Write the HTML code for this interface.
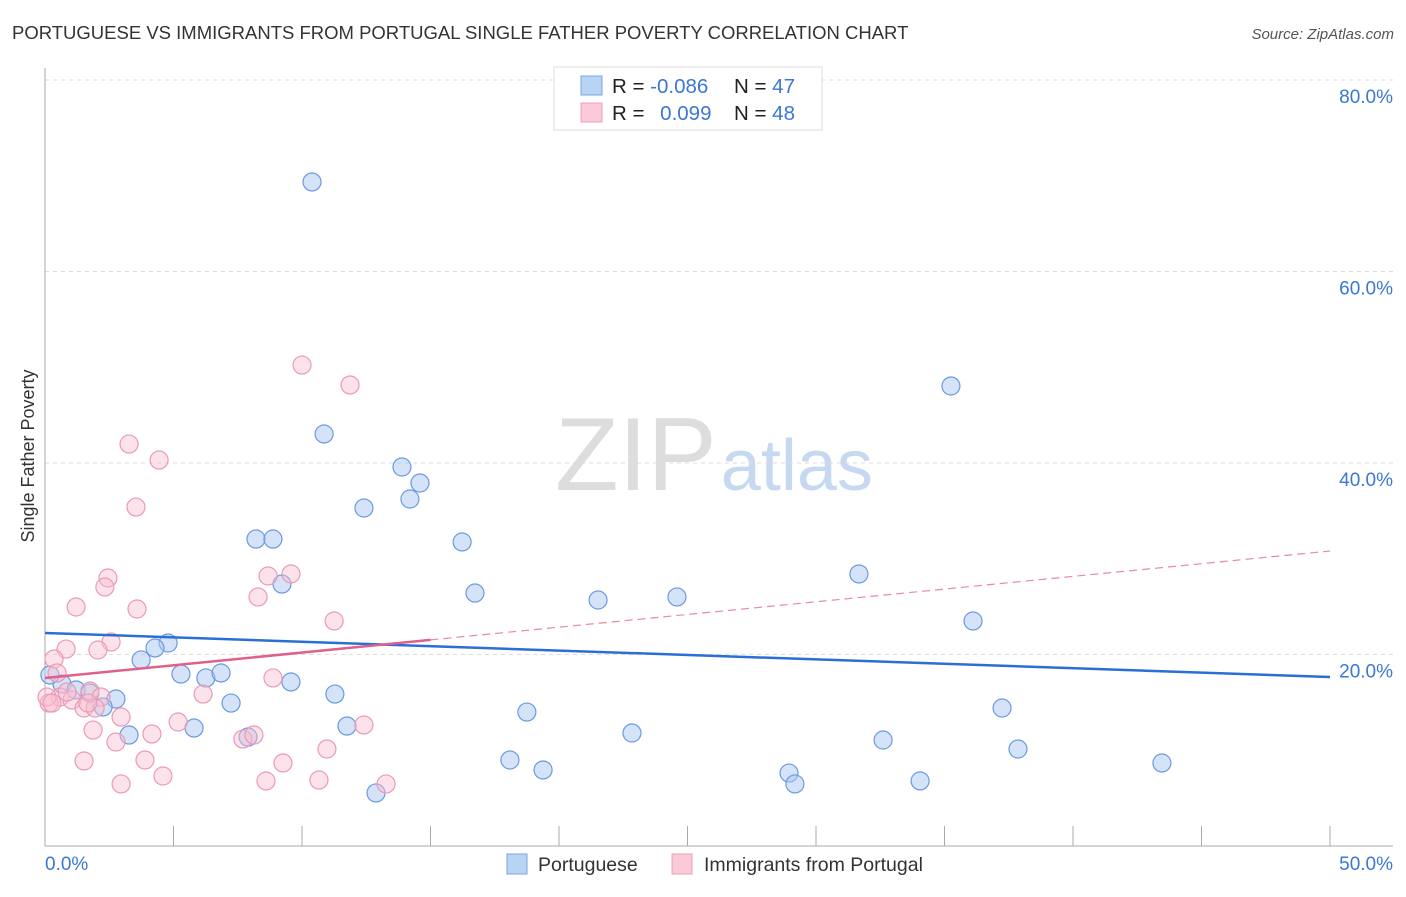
<!DOCTYPE html>
<html><head><meta charset="utf-8"><style>
body{margin:0;background:#fff;font-family:"Liberation Sans",sans-serif;}
svg text{font-family:"Liberation Sans",sans-serif;}
</style></head><body>
<svg id="chart" width="1406" height="892" xmlns="http://www.w3.org/2000/svg">
<text x="12" y="39" font-size="18.5" fill="#333">PORTUGUESE VS IMMIGRANTS FROM PORTUGAL SINGLE FATHER POVERTY CORRELATION CHART</text>
<text x="1394" y="39" font-size="15" fill="#555" text-anchor="end" font-style="italic">Source: ZipAtlas.com</text>
<text x="555" y="490" font-size="104" fill="#ddd" font-family="Liberation Serif">ZIP<tspan fill="#c6d9f1" font-family="Liberation Sans" font-size="72" dx="4">atlas</tspan></text>
<text transform="translate(34,456) rotate(-90)" font-size="18" fill="#333" text-anchor="middle">Single Father Poverty</text>
<g id="grid"></g><g id="marks"></g>
<g>
<rect x="554" y="67" width="268" height="63" fill="#fff" stroke="#ddd"/>
<rect x="581" y="76" width="21" height="19" fill="#b9d3f5" stroke="#7aa6e0"/>
<rect x="581" y="103" width="21" height="19" fill="#fbc9d8" stroke="#eea0b8"/>
<text x="612" y="93" font-size="20.5" fill="#222">R = <tspan fill="#3a78d4">-0.086</tspan></text>
<text x="734" y="93" font-size="20.5" fill="#222">N = <tspan fill="#3a78d4">47</tspan></text>
<text x="612" y="120" font-size="20.5" fill="#222">R = <tspan fill="#3a78d4" dx="10">0.099</tspan></text>
<text x="734" y="120" font-size="20.5" fill="#222">N = <tspan fill="#3a78d4">48</tspan></text>
</g>
<g>
<rect x="507" y="854" width="20" height="20" fill="#b9d3f5" stroke="#7aa6e0"/>
<text x="538" y="871" font-size="19.5" fill="#333">Portuguese</text>
<rect x="672" y="854" width="20" height="20" fill="#fbc9d8" stroke="#eea0b8"/>
<text x="704" y="871" font-size="19.5" fill="#333">Immigrants from Portugal</text>
</g>
</svg>
<script>
const yTicks=[20,40,60,80];
const yTickLabels=["20.0%","40.0%","60.0%","80.0%"];
const xTicks=[0,5,10,15,20,25,30,35,40,45,50];
const blueX=[10.39,10.86,13.89,14.59,14.20,12.41,8.21,8.87,16.23,9.22,16.73,21.52,24.59,31.67,35.25,36.11,4.79,4.28,3.74,5.29,6.26,6.85,9.57,0.66,1.21,1.75,2.76,2.26,7.24,11.28,5.80,3.27,11.75,18.75,22.84,18.09,19.38,28.95,29.18,12.88,32.61,34.05,37.24,37.86,43.46,7.90,0.19];
const blueY=[69.35,43.03,39.58,37.91,36.24,35.30,32.06,32.06,31.75,27.36,26.42,25.69,26.01,28.41,48.04,23.50,21.20,20.68,19.43,17.96,17.55,18.07,17.13,16.92,16.29,15.98,15.35,14.52,14.93,15.87,12.32,11.59,12.53,13.99,11.80,8.98,7.94,7.62,6.48,5.54,11.07,6.79,14.41,10.13,8.67,11.38,17.86];
const pinkX=[10.00,11.87,3.27,4.44,3.54,2.45,2.33,1.21,3.58,8.68,9.57,8.29,11.25,2.57,2.06,0.82,0.35,0.47,8.87,6.15,1.75,2.18,0.58,1.05,0.16,1.52,1.95,2.96,5.18,4.16,1.87,2.76,7.70,8.13,1.52,3.89,4.59,2.96,8.60,9.26,10.66,13.27,12.41,10.97,0.08,0.27,0.86,1.67];
const pinkY=[50.23,48.15,41.98,40.31,35.40,27.99,27.05,24.96,24.75,28.20,28.41,26.01,23.50,21.31,20.47,20.57,19.53,18.07,17.55,15.87,16.19,15.56,15.56,15.25,14.93,14.41,14.41,13.47,12.95,11.70,12.11,10.86,11.17,11.59,8.88,8.98,7.31,6.48,6.79,8.67,6.89,6.48,12.64,10.13,15.56,14.93,16.08,14.93];
const blueTrend=[22.25,17.65];
const pinkTrend=[17.55,30.81];
const pinkSolidEnd=15;

const NS="http://www.w3.org/2000/svg";
const X=v=>45+v*(1285/50);
const Y=v=>846-v*(766/80);
const grid=document.getElementById('grid'),marks=document.getElementById('marks');
function mk(tag,attrs,parent){const e=document.createElementNS(NS,tag);for(const k in attrs)e.setAttribute(k,attrs[k]);parent.appendChild(e);return e;}
yTicks.forEach((t,i)=>{
  const l=mk('line',{x1:45,x2:1393,y1:Y(t),y2:Y(t),stroke:'#ddd','stroke-dasharray':'4,4'},grid);
  
  
  const tx=mk('text',{x:1393,y:Y(t)+23,'font-size':19,fill:'#3a78d4','text-anchor':'end'},grid);
  tx.textContent=yTickLabels[i];
  
  
});
const ax=mk('path',{d:'M45,68 V846 H1393',fill:'none',stroke:'#aaa'},grid);


xTicks.slice(1).forEach(t=>{
  const l=mk('line',{x1:X(t),x2:X(t),y1:826,y2:846,stroke:'#aaa'},grid);
  
  
});
const xl0=mk('text',{x:45,y:870,'font-size':19,fill:'#3a78d4'},grid);xl0.textContent='0.0%';


const xl1=mk('text',{x:1393,y:870,'font-size':19,fill:'#3a78d4','text-anchor':'end'},grid);xl1.textContent='50.0%';


blueX.forEach((v,i)=>{
  const c=mk('circle',{cx:X(v),cy:Y(blueY[i]),r:9,fill:'rgba(170,200,240,0.5)',stroke:'#6a9ae0','stroke-width':1.2},marks);
  
  
});
pinkX.forEach((v,i)=>{
  const c=mk('circle',{cx:X(v),cy:Y(pinkY[i]),r:9,fill:'rgba(248,190,208,0.45)',stroke:'#eb9ab6','stroke-width':1.2},marks);
  
  
});
const bl=mk('line',{x1:X(0),y1:Y(blueTrend[0]),x2:X(50),y2:Y(blueTrend[1]),stroke:'#2a6fd6','stroke-width':2.5},marks);


const py=x=>pinkTrend[0]+(pinkTrend[1]-pinkTrend[0])*x/50;
const pl=mk('line',{x1:X(0),y1:Y(py(0)),x2:X(pinkSolidEnd),y2:Y(py(pinkSolidEnd)),stroke:'#e0608c','stroke-width':2.5},marks);


const pd=mk('line',{x1:X(pinkSolidEnd),y1:Y(py(pinkSolidEnd)),x2:X(50),y2:Y(py(50)),stroke:'#e889a8','stroke-width':1.2,'stroke-dasharray':'8,5'},marks);


</script>
</body></html>
